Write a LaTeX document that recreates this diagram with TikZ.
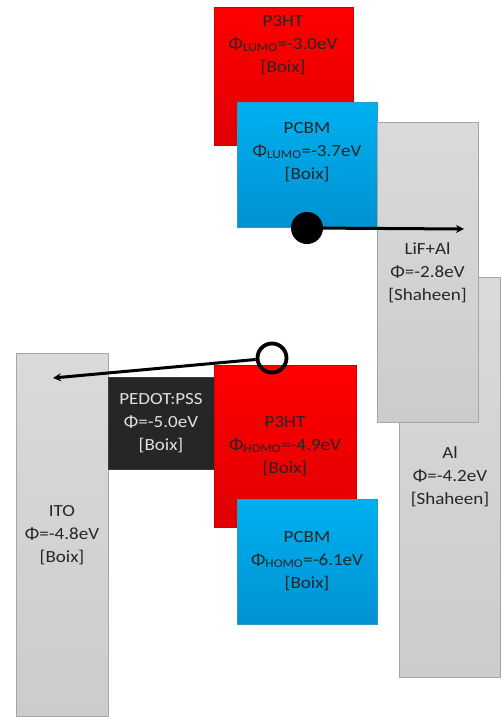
\documentclass[tikz,border=0pt]{standalone}
\usepackage{fontspec}
\setmainfont{Carlito}[FakeStretch=1.12]
\usetikzlibrary{arrows.meta,shadows}
\definecolor{txt}{HTML}{262626}
\tikzset{
  box/.style={anchor=north west, inner sep=0pt, draw=#1!80!black, line width=0.5pt,
    drop shadow={opacity=0.25, shadow xshift=1.2pt, shadow yshift=-1.2pt}},
  redbox/.style={box=red, top color=red!100, bottom color=red!88!black},
  bluebox/.style={box=cyan, top color={rgb,255:red,0;green,176;blue,240}, bottom color={rgb,255:red,0;green,146;blue,210}},
  graybox/.style={box=gray, draw={rgb,255:red,166;green,166;blue,166}, top color={rgb,255:red,218;green,218;blue,218}, bottom color={rgb,255:red,204;green,204;blue,204}},
  darkbox/.style={box=black, draw={rgb,255:red,60;green,60;blue,60}, fill={rgb,255:red,38;green,38;blue,38}},
  lbl/.style={align=center, text=txt, font=\fontsize{17}{23}\selectfont, inner sep=0pt},
  conn/.style={line width=3pt, draw=black},
}
\begin{document}
\begin{tikzpicture}[x=1pt,y=-1pt]
\useasboundingbox (0,0) rectangle (501,717);
% top LUMO levels
\node[redbox, minimum width=139pt, minimum height=138pt] (p3htL) at (214,7) {};
\node[lbl] (p3htLt) at (283,45) {P3HT\\Φ\textsubscript{LUMO}=-3.0eV\\{}[Boix]};
\node[bluebox, minimum width=140pt, minimum height=125pt] (pcbmL) at (237,102) {};
\node[lbl] (pcbmLt) at (307,152) {PCBM\\Φ\textsubscript{LUMO}=-3.7eV\\{}[Boix]};
% electrodes right
\node[graybox, minimum width=101pt, minimum height=400pt] (al) at (399,277) {};
\node[lbl] (alt) at (450,477) {Al\\Φ=-4.2eV\\{}[Shaheen]};
\node[graybox, minimum width=101pt, minimum height=300pt] (lif) at (377,122) {};
\node[lbl] (lift) at (427.5,273) {LiF+Al\\Φ=-2.8eV\\{}[Shaheen]};
% left side
\node[graybox, minimum width=92pt, minimum height=363pt] (ito) at (16,353) {};
\node[lbl] (itot) at (62,535) {ITO\\Φ=-4.8eV\\{}[Boix]};
\node[darkbox, minimum width=106pt, minimum height=92pt] (pedot) at (108,377) {};
\node[lbl, text={rgb,255:red,225;green,225;blue,225}] (pedott) at (161,423) {PEDOT:PSS\\Φ=-5.0eV\\{}[Boix]};
\node[redbox, minimum width=142pt, minimum height=162pt] (p3htH) at (214,365) {};
\node[lbl] (p3htHt) at (285,446) {P3HT\\Φ\textsubscript{HOMO}=-4.9eV\\{}[Boix]};
\node[bluebox, minimum width=140pt, minimum height=125pt] (pcbmH) at (237,499) {};
\node[lbl] (pcbmHt) at (307,561) {PCBM\\Φ\textsubscript{HOMO}=-6.1eV\\{}[Boix]};
% electron and hole
\coordinate (eEnd) at (464,229);
\coordinate (hEnd) at (53,378);
\node[circle, fill=black, minimum size=32pt, inner sep=0pt] (elec) at (307,228) {};
\draw[conn, -{Stealth[length=8pt,width=8pt]}] (elec) -- (eEnd);
\node[circle, draw=black, line width=3.8pt, minimum size=29pt, inner sep=0pt] (hole) at (272,358) {};
\draw[conn, -{Stealth[length=8pt,width=8pt]}] (hole) -- (hEnd);
\end{tikzpicture}
\end{document}
